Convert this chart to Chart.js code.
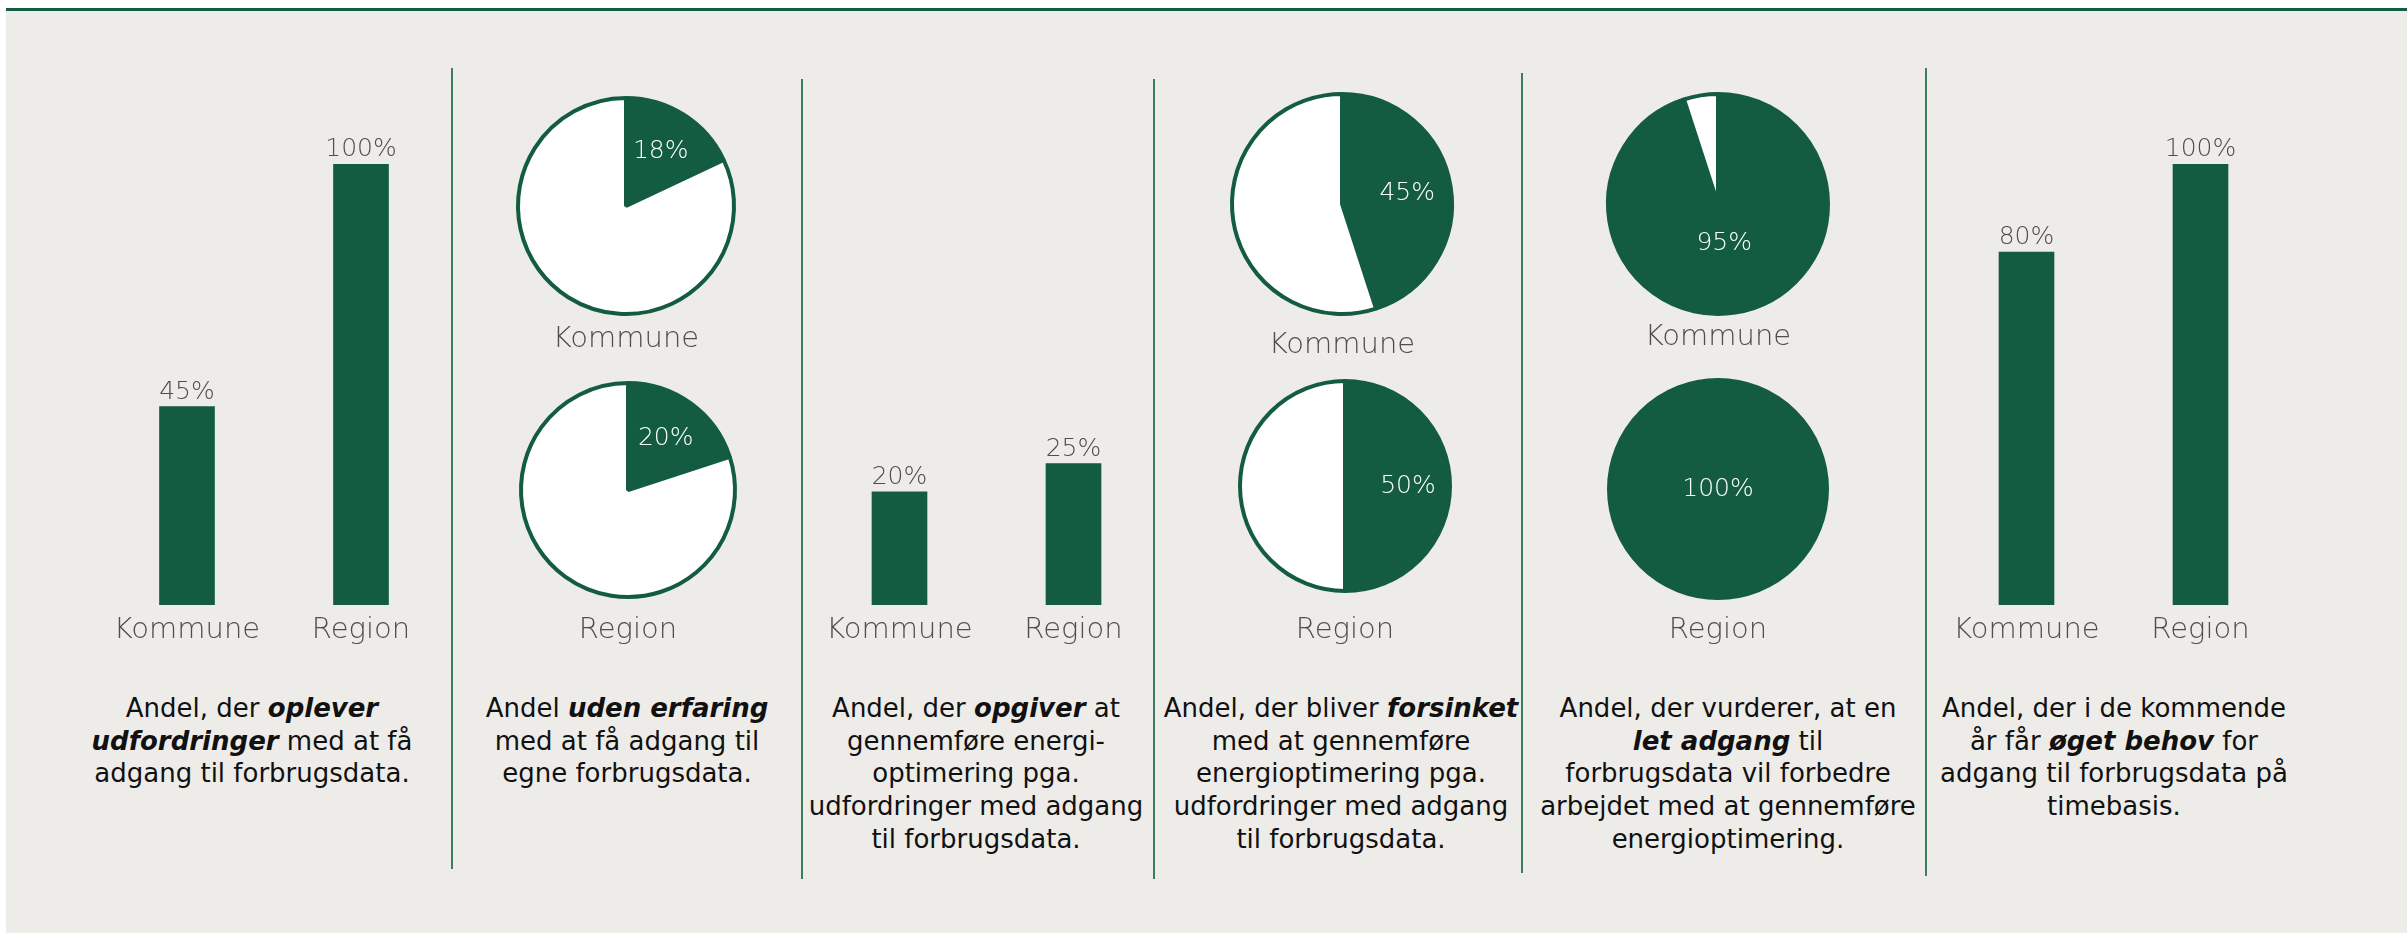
<!DOCTYPE html>
<html lang="da">
<head>
<meta charset="utf-8">
<title>Forbrugsdata</title>
<script src="https://cdn.jsdelivr.net/npm/chart.js@4.4.1/dist/chart.umd.min.js"></script>
<style>
  html, body { margin: 0; padding: 0; background: #ffffff; }
  body { width: 2407px; height: 933px; position: relative; overflow: hidden; font-family: 'DejaVu Sans', sans-serif; }
  #panel { position: absolute; left: 6px; top: 8px; width: 2401px; height: 925px; background: #EEECE8; border-top: 3px solid #135C42; box-sizing: border-box; }
  .divider { position: absolute; width: 2px; background: #3B7D5E; z-index: 2; }
  canvas { position: absolute; z-index: 3; }
  .desc { position: absolute; top: 692px; width: 440px; text-align: center; white-space: nowrap;
          font-family: 'DejaVu Sans', sans-serif; font-size: 26px; line-height: 32.7px; color: #111111; z-index: 4; }
  .desc b { font-weight: bold; font-style: italic; }
</style>
</head>
<body>
<div id="panel"></div>

<div class="divider" style="left:451px; top:68px; height:801px;"></div>
<div class="divider" style="left:801px; top:79px; height:800px;"></div>
<div class="divider" style="left:1153px; top:79px; height:800px;"></div>
<div class="divider" style="left:1521px; top:73px; height:800px;"></div>
<div class="divider" style="left:1925px; top:68px; height:808px;"></div>

<canvas id="bar1" width="440" height="560" style="left:10px; top:100px;"></canvas>
<canvas id="pie2k" width="260" height="264" style="left:496px; top:94px;"></canvas>
<canvas id="pie2r" width="260" height="272" style="left:498px; top:378px;"></canvas>
<canvas id="bar3" width="370" height="560" style="left:800px; top:100px;"></canvas>
<canvas id="pie4k" width="260" height="272" style="left:1212px; top:92px;"></canvas>
<canvas id="pie4r" width="260" height="274" style="left:1215px; top:374px;"></canvas>
<canvas id="pie5k" width="260" height="264" style="left:1588px; top:92px;"></canvas>
<canvas id="pie5r" width="260" height="272" style="left:1588px; top:377px;"></canvas>
<canvas id="bar6" width="460" height="560" style="left:1930px; top:100px;"></canvas>

<div class="desc" style="left:32px;">Andel, der <b>oplever</b><br><b>udfordringer</b> med at få<br>adgang til forbrugsdata.</div>
<div class="desc" style="left:407px;">Andel <b>uden erfaring</b><br>med at få adgang til<br>egne forbrugsdata.</div>
<div class="desc" style="left:756px;">Andel, der <b>opgiver</b> at<br>gennemføre energi-<br>optimering pga.<br>udfordringer med adgang<br>til forbrugsdata.</div>
<div class="desc" style="left:1121px;">Andel, der bliver <b>forsinket</b><br>med at gennemføre<br>energioptimering pga.<br>udfordringer med adgang<br>til forbrugsdata.</div>
<div class="desc" style="left:1508px;">Andel, der vurderer, at en<br><b>let adgang</b> til<br>forbrugsdata vil forbedre<br>arbejdet med at gennemføre<br>energioptimering.</div>
<div class="desc" style="left:1894px;">Andel, der i de kommende<br>år får <b>øget behov</b> for<br>adgang til forbrugsdata på<br>timebasis.</div>

<script>
// ---- data ----
const categories = ['Kommune', 'Region'];
const oplever = [45, 100];        // Andel, der oplever udfordringer
const udenErfaring = [18, 20];    // Andel uden erfaring (Kommune, Region)
const opgiver = [20, 25];         // Andel, der opgiver
const forsinket = [45, 50];       // Andel, der bliver forsinket
const letAdgang = [95, 100];      // Andel, der vurderer at let adgang vil forbedre
const oegetBehov = [80, 100];     // Andel med øget behov
const pieSliceNames = ['Andel', 'Øvrige'];

// ---- style ----
const GREEN = '#135C42';
const GRAY = '#4E4E4E';
const FONT = "'DejaVu Sans', sans-serif";
const LABEL_SIZE = 29;

const barValueLabels = {
  id: 'barValueLabels',
  afterDatasetsDraw(chart) {
    const ctx = chart.ctx;
    const ds = chart.data.datasets[0];
    const meta = chart.getDatasetMeta(0);
    ctx.save();
    ctx.font = '200 25px ' + FONT;
    ctx.fillStyle = GRAY;
    ctx.textAlign = 'center';
    ctx.textBaseline = 'alphabetic';
    meta.data.forEach((bar, i) => {
      ctx.fillText(ds.data[i] + '%', bar.x, bar.y - 8);
    });
    ctx.restore();
  }
};

const pieValueLabel = {
  id: 'pieValueLabel',
  afterDatasetsDraw(chart) {
    const ctx = chart.ctx;
    const v = chart.data.datasets[0].data[0];
    const arc = chart.getDatasetMeta(0).data[0];
    const mid = (arc.startAngle + arc.endAngle) / 2;
    const f = v >= 100 ? 0 : (v > 75 ? 0.36 : 0.6);
    const r = arc.outerRadius * f;
    ctx.save();
    ctx.font = '200 25px ' + FONT;
    ctx.fillStyle = '#FFFFFF';
    ctx.textAlign = 'center';
    ctx.textBaseline = 'middle';
    ctx.fillText(v + '%', arc.x + Math.cos(mid) * r, arc.y + Math.sin(mid) * r);
    ctx.restore();
  }
};

function barChart(id, values, yMax, pad) {
  return new Chart(document.getElementById(id), {
    type: 'bar',
    data: { labels: categories, datasets: [{ data: values, backgroundColor: GREEN, barThickness: 55 }] },
    options: {
      responsive: false, animation: false, devicePixelRatio: 1,
      layout: { padding: pad },
      plugins: { legend: { display: false }, tooltip: { enabled: false }, title: { display: false } },
      scales: {
        x: {
          grid: { display: false, drawTicks: false }, border: { display: false },
          ticks: { color: GRAY, padding: 8, font: { family: FONT, size: LABEL_SIZE, weight: 200, lineHeight: 1.2 } }
        },
        y: { display: false, min: 0, max: yMax }
      }
    },
    plugins: [barValueLabels]
  });
}

// chart area is the top 224px of the canvas (pie centred 112px below canvas top)
function pieChart(id, value, label, outerR, canvasH, labelCenterFromTop) {
  const areaH = 224;
  const lh = LABEL_SIZE * 1.2;
  const padTop = labelCenterFromTop - lh / 2 - areaH;
  const padBottom = canvasH - areaH - lh - padTop;
  return new Chart(document.getElementById(id), {
    type: 'pie',
    data: {
      labels: pieSliceNames,
      datasets: [{
        data: [value, 100 - value],
        backgroundColor: [GREEN, '#FFFFFF'],
        borderColor: GREEN, borderWidth: 4,
        radius: outerR - 2
      }]
    },
    options: {
      responsive: false, animation: false, devicePixelRatio: 1,
      layout: { padding: 0 },
      plugins: {
        legend: { display: false }, tooltip: { enabled: false },
        title: {
          display: true, text: label, position: 'bottom', color: GRAY,
          font: { family: FONT, size: LABEL_SIZE, weight: 200, lineHeight: 1.2 },
          padding: { top: padTop, bottom: padBottom }
        }
      }
    },
    plugins: [pieValueLabel]
  });
}

const barPad = (l, r) => ({ left: l, right: r, top: 64, bottom: 560 - 505 - (LABEL_SIZE * 1.2 + 16) });

// Panel 1: bars
barChart('bar1', oplever, 100, barPad(90, 2));
// Panel 2: pies
pieChart('pie2k', udenErfaring[0], categories[0], 110, 264, 339 - 94);
pieChart('pie2r', udenErfaring[1], categories[1], 109, 272, 630 - 378);
// Panel 3: bars
barChart('bar3', opgiver, 78, barPad(12.5, 9.5));
// Panel 4: pies
pieChart('pie4k', forsinket[0], categories[0], 112, 272, 345 - 92);
pieChart('pie4r', forsinket[1], categories[1], 107, 274, 630 - 374);
// Panel 5: pies
pieChart('pie5k', letAdgang[0], categories[0], 112, 264, 337 - 92);
pieChart('pie5r', letAdgang[1], categories[1], 111, 272, 630 - 377);
// Panel 6: bars
barChart('bar6', oegetBehov, 100, barPad(9.5, 102.5));
</script>
</body>
</html>
